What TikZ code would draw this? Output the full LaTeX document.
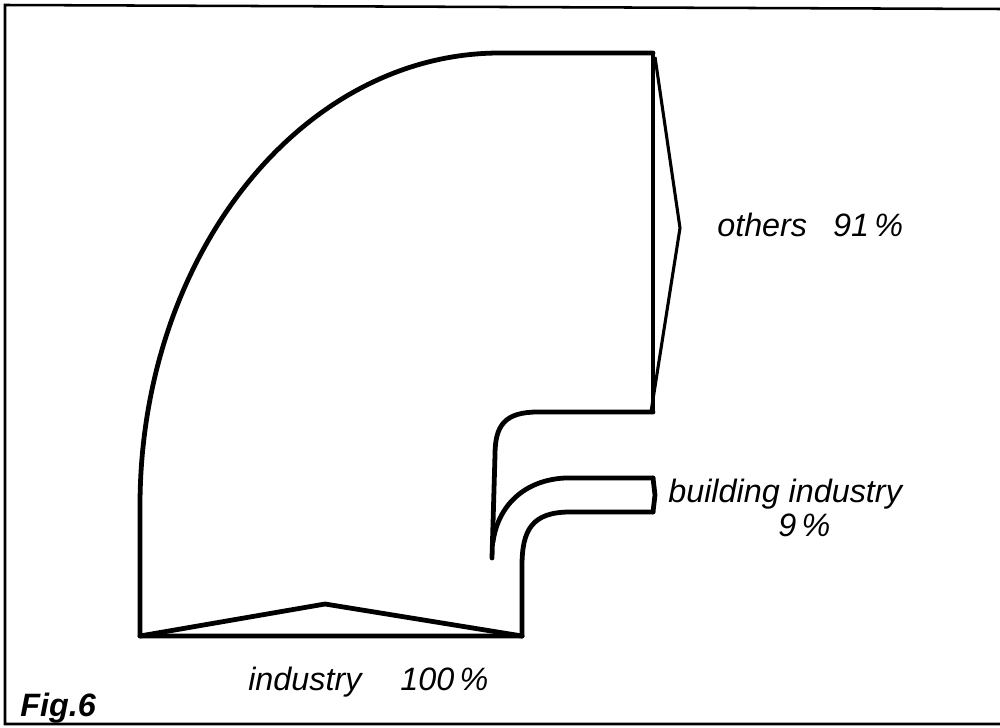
\documentclass[tikz,border=0pt]{standalone}
\usepackage{fontspec}
\setmainfont{Liberation Sans}
\usetikzlibrary{positioning,calc}
\tikzset{
  flow/.style={line width=3.4pt, line join=round, line cap=round},
  arrowline/.style={line width=2.2pt, line join=miter},
  hand/.style={font=\itshape\fontsize{23}{25}\selectfont, inner sep=0pt},
}

\begin{document}
\begin{tikzpicture}[x=0.025cm,y=-0.025cm]
  \useasboundingbox (0,0) rectangle (1000,728);
  % frame
  \draw[line width=1.8pt] (1000,9) -- (5,5) -- (5,724) -- (1000,724);
  \coordinate (BL) at (140,636);
  \coordinate (BR) at (522,636);
  \coordinate (BT) at (325,604);
  \coordinate (TR) at (653,53);
  \coordinate (RB) at (653,412);
  \coordinate (OA) at (680,228);
  % main stream
  \draw[flow] (BR) -- (BL) -- (140,506)
    arc[start angle=180, end angle=270, x radius=360, y radius=453]
    -- (TR);
  \draw[arrowline] (TR) -- (RB);
  \draw[flow] (RB) -- (538,412) .. controls (505,412) and (495,425) .. (495,455)
    -- (492,558);
  % building industry branch
  \draw[flow] (653,478) -- (565,478) .. controls (525,480) and (498,505) .. (493,542);
  \draw[flow] (653,478) -- (655,495) -- (653,512);
  \draw[flow] (653,512) -- (570,512) .. controls (532,512) and (522,530) .. (522,566)
    -- (BR);
  % arrow heads
  \draw[flow] (BL) -- (BT) -- (BR);
  \draw[arrowline] (655,57) -- (OA) -- (651,412);
  % labels
  \node[hand, anchor=base west] (others) at (717,237) {others\hspace{0.8em}91\,\%};
  \node[hand, anchor=base west] (build) at (668,502) {building industry};
  \node[hand, anchor=base west] (bpct) at (778,536) {9\,\%};
  \node[hand, anchor=base west] (ind) at (248,690) {industry\hspace{1.2em}100\,\%};
  \node[hand, anchor=base west, font=\bfseries\itshape\fontsize{23}{25}\selectfont] (fig) at (20,716) {Fig.6};
\end{tikzpicture}
\end{document}
